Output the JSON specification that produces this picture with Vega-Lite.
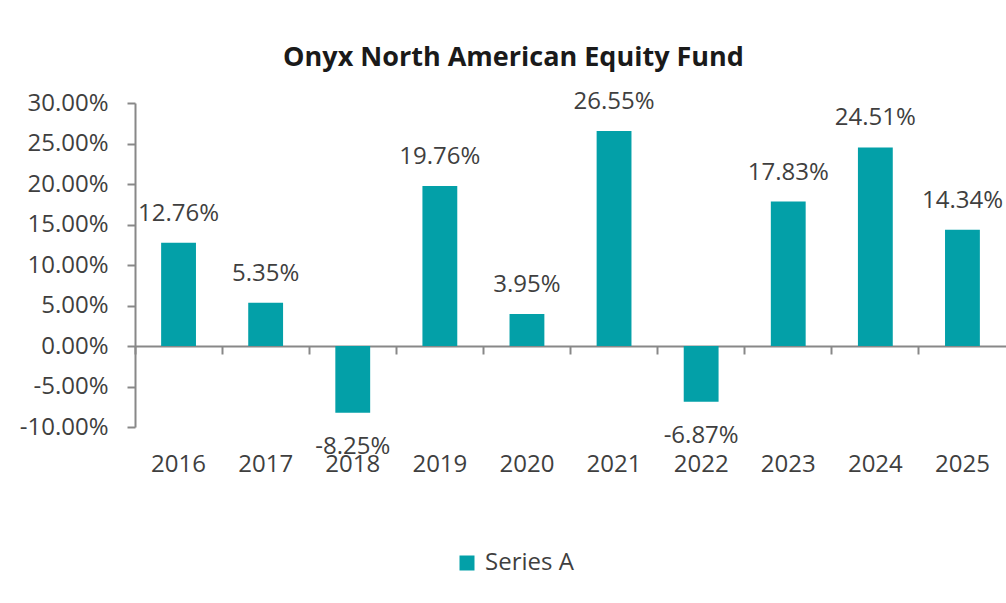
{
  "$schema": "https://vega.github.io/schema/vega-lite/v6.json",
  "autosize": "none",
  "width": 871,
  "height": 324,
  "padding": {"left": 135, "top": 103, "right": 0, "bottom": 176},
  "background": "white",
  "config": {
    "view": {"stroke": null},
    "font": "Open Sans",
    "locale": {"number": {"decimal": ".", "thousands": ",", "grouping": [3], "currency": ["$", ""], "minus": "-"}}
  },
  "title": {
    "text": "Onyx North American Equity Fund",
    "font": "Open Sans",
    "fontSize": 27,
    "fontWeight": "bold",
    "color": "#1a1a1a",
    "frame": "group",
    "anchor": "middle",
    "baseline": "alphabetic",
    "offset": 35,
    "dx": -57,
    "dy": 38
  },
  "data": {
    "values": [
      {"year": "2016", "ret": 0.1276, "series": "Series A"},
      {"year": "2017", "ret": 0.0535, "series": "Series A"},
      {"year": "2018", "ret": -0.0825, "series": "Series A"},
      {"year": "2019", "ret": 0.1976, "series": "Series A"},
      {"year": "2020", "ret": 0.0395, "series": "Series A"},
      {"year": "2021", "ret": 0.2655, "series": "Series A"},
      {"year": "2022", "ret": -0.0687, "series": "Series A"},
      {"year": "2023", "ret": 0.1783, "series": "Series A"},
      {"year": "2024", "ret": 0.2451, "series": "Series A"},
      {"year": "2025", "ret": 0.1434, "series": "Series A"}
    ]
  },
  "resolve": {"axis": {"x": "independent"}},
  "layer": [
    {
      "mark": {"type": "bar"},
      "encoding": {
        "x": {
          "field": "year", "type": "ordinal",
          "scale": {"paddingInner": 0.6, "paddingOuter": 0.3},
          "axis": {
            "orient": "bottom", "title": null, "domain": false, "ticks": false,
            "labelAngle": 0, "labelFont": "Open Sans", "labelFontSize": 24,
            "labelColor": "#3f3f3f", "labelPadding": 25
          }
        },
        "y": {
          "field": "ret", "type": "quantitative",
          "scale": {"domain": [-0.1, 0.3], "nice": false, "zero": false},
          "axis": {
            "title": null, "values": [-0.1, -0.05, 0, 0.05, 0.1, 0.15, 0.2, 0.25, 0.3],
            "format": ".2%", "grid": false,
            "domainColor": "#888888", "domainWidth": 2,
            "tickColor": "#888888", "tickWidth": 2, "tickSize": 8,
            "labelFont": "Open Sans", "labelFontSize": 24, "labelColor": "#3f3f3f",
            "labelPadding": 19
          }
        },
        "color": {
          "field": "series", "type": "nominal",
          "scale": {"range": ["#03A0A8"]},
          "legend": {
            "title": null, "orient": "none", "legendX": 320, "legendY": 448,
            "padding": 0, "symbolType": "square", "symbolSize": 225,
            "symbolStrokeWidth": 0, "labelFont": "Open Sans", "labelFontSize": 24,
            "labelColor": "#3f3f3f", "labelOffset": 6
          }
        }
      }
    },
    {
      "transform": [{"filter": "datum.ret >= 0"}],
      "mark": {"type": "text", "baseline": "alphabetic", "dy": -22, "font": "Open Sans", "fontSize": 24, "color": "#3f3f3f"},
      "encoding": {
        "x": {
          "field": "year", "type": "ordinal",
          "axis": {
            "orient": "bottom", "title": null, "labels": false, "offset": -81,
            "domainColor": "#888888", "domainWidth": 2,
            "tickColor": "#888888", "tickWidth": 2, "tickSize": 8,
            "bandPosition": -0.75
          }
        },
        "y": {"field": "ret", "type": "quantitative"},
        "text": {"field": "ret", "type": "quantitative", "format": ".2%"}
      }
    },
    {
      "transform": [{"filter": "datum.ret < 0"}],
      "mark": {"type": "text", "baseline": "alphabetic", "dy": 41, "font": "Open Sans", "fontSize": 24, "color": "#3f3f3f"},
      "encoding": {
        "x": {"field": "year", "type": "ordinal", "axis": null},
        "y": {"field": "ret", "type": "quantitative"},
        "text": {"field": "ret", "type": "quantitative", "format": ".2%"}
      }
    }
  ]
}
